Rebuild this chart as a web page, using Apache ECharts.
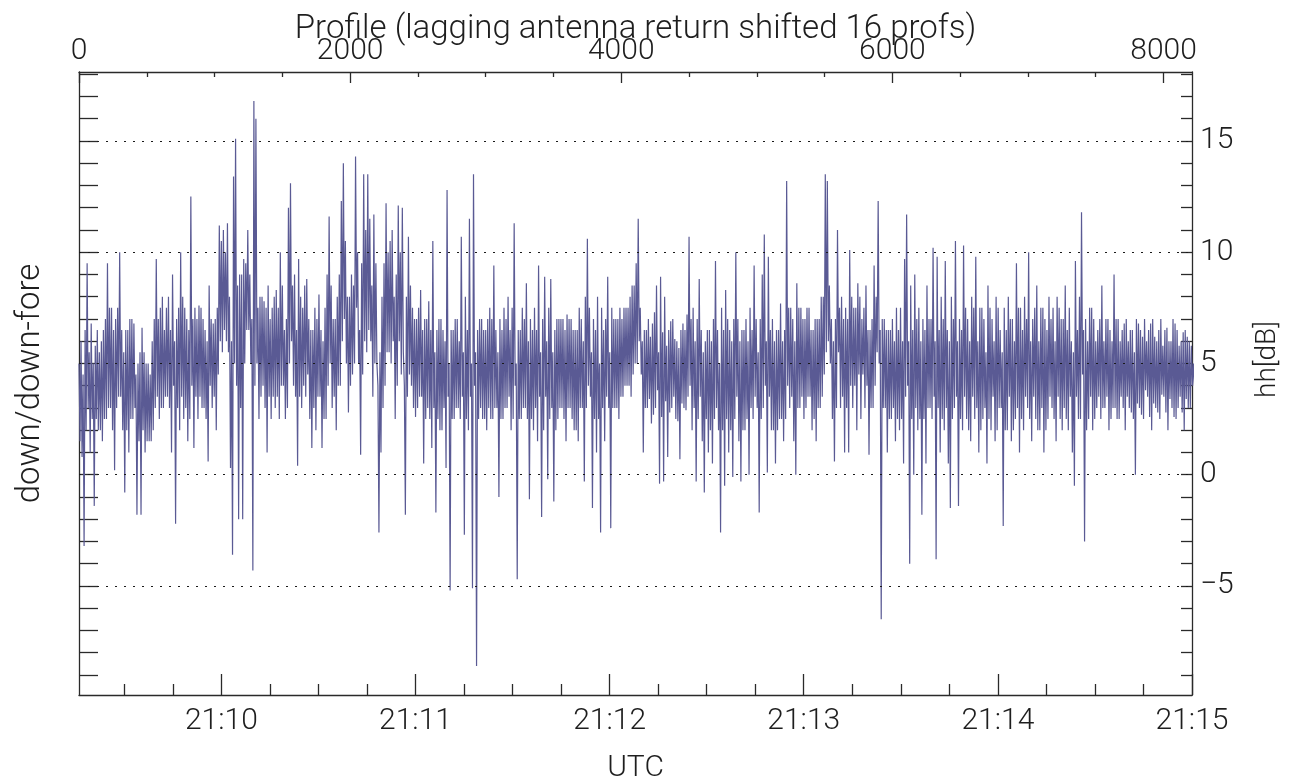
<!DOCTYPE html>
<html>
<head>
<meta charset="utf-8">
<title>hh ratio down/down-fore</title>
<script src="https://cdn.jsdelivr.net/npm/echarts@6/dist/echarts.min.js"></script>
<style>
  html, body { margin: 0; padding: 0; background: #fff; }
  #chart { width: 1297px; height: 780px; }
</style>
</head>
<body>
<div id="chart"></div>
<script>
// Width of one stored bin in profiles (lagging antenna already shifted 16 profiles)
const PROFILE_STEP = 15;

// hh ratio down / down-fore [dB]: two readings per bin, A and B
const hhA = [
  5.0, 0.8, -3.2, 6.5, 9.5, 1.0, 6.8, -1.4, 5.8, 2.0,
  5.5, 1.5, 6.5, 2.5, 9.5, 3.0, 7.5, 0.2, 7.0, 3.5,
  10.0, 2.0, -0.8, 6.5, 1.0, 7.0, 2.5, 6.8, -1.8, 5.0,
  -1.8, 6.6, 1.0, 5.0, 1.5, 4.5, 2.0, 7.0, 9.7, 2.5,
  7.5, 3.0, 6.5, 3.5, 8.0, 1.0, 9.0, -2.2, 7.0, 2.0,
  10.0, 2.5, 7.5, 1.5, 6.5,
  12.5, 1.2, 7.5, 2.5, 7.6, 3.0, 7.0, 2.5, 0.6, 8.5,
  3.0, 6.8, 2.0, 7.5, 11.2, 5.5, 11.0, 6.0, 11.3, 0.3,
  -3.6, 13.4, 15.1, -2.0, 9.0, -2.0, 9.7, 6.5, 11.0, 5.0,
  -4.3, 16.8, 16.0, 2.5, 8.0, 4.0, 7.8, 1.0, 8.5, 2.5,
  7.5, 3.0, 8.3, 2.5, 10.0, 4.0, 6.5, 3.0, 12.0, 13.1,
  4.0, 9.0, 0.4,
  9.7, 3.0, 7.5, 3.5, 8.8, 2.5, 1.2, 6.5, 2.0, 7.0,
  8.1, 1.2, 6.0, 2.5, 9.0, 11.6, 3.0, 7.0, 2.0, 8.0,
  4.0, 12.3, 14.0, 5.0, 2.8, 8.0, 4.5, 8.5, 14.3, 5.0,
  0.9, 9.5, 13.5, 5.5, 13.5, 6.0, 3.5, 11.7, 5.0, -2.6,
  1.0, 8.0, 4.0, 12.2, 5.5, 10.5, 6.0, 2.5, 9.0, 12.1,
  4.5, 12.0, -1.8, 8.0,
  10.7, 4.0, 7.5, 2.6, 7.0, 3.5, 8.3, 0.5, 7.0, 3.0,
  7.8, 1.2, 10.5, -1.7, 6.5, 2.0, 7.0, 3.0, 0.3, 12.8,
  -5.2, 6.5, 2.5, 7.0, 3.0, 6.0, 10.7, -2.7, 8.0, 2.0,
  11.5, -5.1, 13.5, -8.6, 6.5, 3.0, 7.0, 2.5, 6.5, 3.0,
  7.5, 2.5, 9.4, 3.0, -1.0, 7.0, 2.5, 7.5, 3.0, 8.0,
  2.0, 7.5, 11.3, -4.7, 6.5,
  2.5, 7.5, 3.0, 8.6, -1.1, 7.0, 2.0, 7.5, 1.5, 9.4,
  -1.9, 7.0, 8.9, -0.2, 7.5, 8.8, -1.2, 6.5, 2.5, 7.0,
  3.0, 7.0, 1.5, 7.2, 3.0, 7.0, 2.0, 6.5, 1.5, 7.5,
  3.0, -0.3, 8.0, 10.6, 3.5, -1.5, 7.0, 1.0, 8.0, -2.6,
  7.5, 1.5, 7.0, 8.9, -2.4, 7.5, 3.0, 7.0, 2.5, 7.5,
  3.5, 7.5, 4.0,
  7.5, 3.5, 8.5, 5.0, 9.5, 11.5, 4.5, 1.0, 6.5, 3.0,
  7.0, 2.3, 6.8, 3.0, 8.5, -0.4, 8.9, -0.3, 8.0, 0.8,
  6.5, 3.0, 7.0, 2.5, 6.0, 0.7, 6.5, 3.0, 6.5, 3.5,
  10.7, 2.0, 7.5, -0.3, 7.0, 8.8, 1.5, -0.8, 6.0, 1.0,
  6.5, 0.5, 7.0, 9.6, 2.0, -2.6, 7.5, -0.5, 8.3, 1.0,
  6.5, -0.1, 7.0, 10.0, 1.5,
  -0.3, 6.5, 2.0, 7.0, 0.0, 7.5, 2.5, 9.4, 3.0, -1.7,
  7.0, 9.0, 10.8, 0.1, 9.8, 2.0, 7.0, 0.5, 6.5, 2.5,
  7.7, 1.5, 6.5, 13.2, 3.0, 7.5, 1.5, 0.0, 8.6, 3.0,
  7.5, 2.5, 7.0, 3.5, 7.5, 2.0, 6.5, 1.5, 7.0, 3.0,
  8.0, 4.5, 13.5, 13.2, 5.0, 2.5, 0.6, 7.0, 11.0, 3.0,
  8.0, 1.0, 7.5,
  1.0, 10.1, 3.0, 7.5, 2.0, 8.6, 2.5, 7.0, 3.0, 8.5,
  0.9, 6.5, 3.0, 9.4, 5.5, 12.3, -6.5, 3.0, 7.0, 1.0,
  6.5, 2.5, 7.0, 1.5, 7.5, 2.0, 7.5, 0.5, 9.7, 11.7,
  -4.0, 8.5, 0.0, 9.0, 2.0, 7.5, -1.8, 7.0, 0.5, 8.5,
  3.0, 7.0, 10.2, -3.8, 9.8, 1.0, 8.0, 2.0, 9.6, 0.5,
  -1.5, 8.0, 3.0, 10.5, -1.4, 7.0,
  2.0, 10.3, 2.5, 7.0, 1.5, 8.0, 2.5, 9.8, 1.0, 7.5,
  2.5, 7.0, 0.5, 8.5, 2.0, 7.0, 1.5, 8.0, 3.0, 6.5,
  -2.3, 7.5, 2.0, 8.0, 1.5, 7.0, 2.5, 9.5, 1.0, 7.5,
  2.0, 8.0, 3.0, 10.0, 1.5, 7.0, 2.5, 8.5, 2.0, 7.5,
  1.0, 7.0, 2.5, 8.0, 3.0, 7.5, 1.5, 8.0, 2.5, 7.0,
  3.0, 8.5, 2.0, 7.5, 1.0, -0.5, 9.6, 2.5, 8.0, 11.8,
  -3.0, 7.0, 2.5, 7.5, 2.0, 7.0, 3.0, 6.5, 2.5, 8.5,
  3.0, 7.0, 2.0, 6.5, 3.0, 9.0, 2.5, 7.0, 3.5, 6.5,
  2.0, 7.0, 3.0, 6.5, 2.5, 0.0, 7.0, 3.0, 6.5, 2.5,
  7.0, 3.5, 6.5, 2.0, 7.0, 3.0, 6.0, 2.5, 7.0, 3.5,
  6.5, 2.0, 6.0, 3.0, 7.0, 2.5, 6.5, 3.5, 6.0, 2.0,
  6.5, 3.0, 6.0, 4.0, 5.0
];

const hhB = [
  1.5, 6.0, 4.5, 2.0, 3.0, 5.5, 2.5, 5.0, 2.5, 6.5,
  2.0, 6.0, 2.5, 7.0, 3.0, 7.5, 2.0, 6.5, 3.0, 7.5,
  3.5, 6.5, 5.5, 2.0, 6.5, 2.5, 7.0, 3.0, 4.5, 1.5,
  5.5, 2.0, 5.5, 1.5, 5.0, 1.5, 6.0, 3.0, 3.5, 7.0,
  3.0, 8.0, 3.5, 7.5, 3.0, 6.5, 4.0, 6.0, 3.0, 7.5,
  3.5, 8.0, 3.0, 7.0, 2.5,
  4.0, 7.0, 3.5, 7.0, 3.5, 7.5, 3.0, 6.5, 6.0, 4.0,
  7.0, 3.5, 7.0, 4.5, 6.0, 10.5, 6.5, 10.0, 5.5, 8.0,
  6.0, 5.0, 4.0, 8.5, 3.0, 9.0, 5.0, 9.5, 6.5, 9.0,
  7.0, 4.0, 5.0, 7.5, 3.5, 8.0, 3.0, 7.5, 3.5, 7.0,
  3.5, 8.0, 3.5, 7.5, 4.0, 8.5, 2.5, 7.0, 5.0, 6.0,
  8.5, 3.5, 6.5,
  3.5, 8.0, 4.0, 8.5, 4.5, 7.0, 6.5, 3.0, 7.5, 3.5,
  3.5, 6.5, 2.5, 7.5, 4.0, 5.0, 8.5, 3.5, 7.0, 4.0,
  9.0, 6.0, 7.0, 10.5, 8.0, 4.0, 9.0, 5.0, 7.5, 10.0,
  6.5, 4.5, 6.0, 11.0, 6.5, 11.5, 8.5, 5.0, 9.5, 4.0,
  5.5, 3.0, 9.5, 5.5, 10.0, 5.0, 11.0, 8.0, 4.0, 6.0,
  10.0, 5.5, 4.0, 3.5,
  4.5, 8.5, 3.0, 7.0, 3.0, 7.5, 3.5, 6.5, 2.5, 7.0,
  2.5, 6.5, 3.0, 5.5, 2.5, 7.0, 2.0, 6.5, 6.0, 3.5,
  5.0, 2.5, 6.5, 3.0, 7.0, 2.5, 3.5, 5.5, 2.5, 6.5,
  3.5, 5.0, 4.0, 5.5, 2.5, 7.0, 2.5, 6.5, 2.0, 7.0,
  2.5, 7.0, 3.0, 6.5, 5.5, 2.5, 6.5, 3.0, 7.0, 3.5,
  6.5, 2.5, 4.0, 5.0, 2.5,
  6.5, 3.0, 7.0, 2.5, 6.0, 2.5, 6.5, 3.0, 6.5, 3.5,
  5.5, 2.0, 3.5, 6.0, 2.5, 3.0, 5.5, 2.0, 7.0, 3.0,
  7.0, 2.5, 6.5, 3.0, 7.0, 2.5, 6.5, 2.0, 6.5, 3.0,
  7.0, 6.0, 3.0, 4.0, 7.5, 5.5, 2.5, 6.5, 2.5, 5.0,
  3.0, 6.5, 3.5, 3.0, 5.5, 3.0, 7.0, 3.0, 7.0, 3.5,
  7.0, 4.0, 7.5,
  4.0, 8.0, 4.5, 8.5, 5.0, 6.0, 7.5, 6.0, 3.0, 6.5,
  3.4, 6.2, 2.7, 7.3, 3.8, 5.5, 2.6, 6.4, 3.3, 5.8,
  2.8, 6.9, 3.5, 6.1, 2.4, 5.7, 3.2, 6.8, 2.9, 7.2,
  4.0, 7.0, 3.0, 6.0, 2.5, 3.5, 6.5, 5.5, 2.5, 6.5,
  2.0, 6.0, 2.5, 3.0, 6.5, 5.0, 2.0, 6.5, 2.5, 7.0,
  2.0, 6.0, 2.5, 3.5, 7.0,
  6.0, 2.0, 6.5, 2.5, 6.0, 3.0, 6.5, 3.5, 7.0, 5.5,
  2.5, 3.0, 4.0, 6.0, 3.5, 6.5, 2.0, 6.0, 2.0, 6.5,
  2.5, 6.0, 2.5, 4.0, 7.5, 3.5, 7.0, 6.0, 3.0, 7.5,
  3.5, 7.0, 3.0, 7.5, 3.5, 6.5, 2.5, 7.0, 3.0, 7.0,
  3.5, 8.0, 5.5, 6.0, 8.5, 7.0, 6.0, 3.0, 5.5, 7.5,
  3.5, 7.0, 3.0,
  7.0, 4.0, 8.0, 4.0, 7.5, 4.5, 8.0, 4.5, 7.5, 4.0,
  6.5, 3.0, 7.0, 4.0, 8.0, 5.0, 6.5, 7.0, 3.0, 6.5,
  2.5, 6.5, 3.0, 6.0, 2.5, 6.5, 2.5, 6.0, 3.5, 4.0,
  6.0, 2.5, 6.5, 3.0, 7.0, 2.5, 6.0, 2.5, 6.5, 3.0,
  7.0, 2.5, 3.5, 6.0, 3.0, 6.5, 2.5, 7.0, 3.0, 6.5,
  6.0, 2.5, 7.0, 3.5, 6.0, 2.5,
  6.5, 3.5, 7.5, 2.0, 6.0, 3.5, 7.5, 3.0, 6.0, 2.0,
  7.5, 3.0, 5.5, 2.5, 7.5, 3.5, 6.0, 2.0, 7.5, 3.0,
  5.5, 2.0, 6.5, 3.5, 7.0, 2.0, 6.0, 3.0, 7.5, 2.5,
  6.5, 3.5, 7.0, 2.5, 6.0, 3.5, 7.5, 2.0, 6.0, 3.0,
  7.5, 2.0, 6.5, 3.5, 7.0, 2.5, 6.0, 3.5, 7.5, 2.0,
  7.0, 2.5, 6.5, 3.5, 6.0, 5.5, 3.5, 6.5, 2.5, 4.5,
  6.5, 2.0, 6.0, 3.5, 7.5, 2.5, 6.0, 3.5, 7.0, 3.0,
  6.0, 3.5, 7.0, 2.5, 6.0, 3.0, 7.0, 2.5, 6.0, 3.0,
  6.8, 3.5, 6.0, 2.8, 6.5, 5.5, 3.2, 6.8, 2.7, 6.2,
  3.8, 6.0, 2.6, 6.8, 3.2, 6.2, 2.8, 6.5, 3.6, 5.8,
  2.8, 6.6, 3.4, 6.0, 2.6, 6.8, 3.0, 5.8, 2.8, 6.4,
  3.4, 6.2, 3.0, 5.8, 4.0
];

// Axis extents
const profileRange = [0, 8210];
const utcRange = ['21:09:16', '21:15:00'];
const dbRange = [-9.9, 18.1];

// Tick and label values
const profileLabels = [0, 2000, 4000, 6000, 8000];
const profileMinor = [500, 1000, 1500, 2500, 3000, 3500, 4500, 5000, 5500, 6500, 7000, 7500];
const utcLabels = ['21:10', '21:11', '21:12', '21:13', '21:14', '21:15'];
const utcMinor = ['21:09:30', '21:09:45', '21:10:15', '21:10:30', '21:10:45', '21:11:15', '21:11:30',
  '21:11:45', '21:12:15', '21:12:30', '21:12:45', '21:13:15', '21:13:30', '21:13:45', '21:14:15',
  '21:14:30', '21:14:45'];
const dbLabels = [-5, 0, 5, 10, 15];
const dbMinor = [-9, -8, -7, -6, -5, -4, -3, -2, -1, 0, 1, 2, 3, 4, 5, 6, 7, 8, 9,
  10, 11, 12, 13, 14, 15, 16, 17, 18];

// seconds after 21:00:00
function toSec(t) {
  const p = t.split(':').map(Number);
  return (p[0] - 21) * 3600 + p[1] * 60 + (p[2] || 0);
}
function fromSec(s) {
  const m = Math.floor(s / 60);
  return '21:' + String(m).padStart(2, '0');
}

const FONT = 'Roboto';
const INK = '#1e1e1e';
const LINE = '#2a2a2a';
const txt = { fontFamily: FONT, fontWeight: 300, color: INK, fontSize: 30 };

// Each bin is drawn as its upper reading followed by its lower one
const seriesData = [];
const nBins = Math.min(hhA.length, hhB.length);
for (let i = 0; i < nBins; i++) {
  const hi = Math.max(hhA[i], hhB[i]);
  const lo = Math.min(hhA[i], hhB[i]);
  seriesData.push([i * PROFILE_STEP, hi]);
  seriesData.push([i * PROFILE_STEP + PROFILE_STEP / 2, lo]);
}

const tickStyle = { color: LINE, width: 1.3 };

const option = {
  animation: false,
  backgroundColor: '#ffffff',
  textStyle: { fontFamily: FONT },
  grid: { left: 79, right: 105, top: 72, bottom: 85, containLabel: false, outerBoundsMode: 'none' },
  xAxis: [
    {
      // profile number, top
      type: 'value', position: 'top',
      min: profileRange[0], max: profileRange[1],
      axisLine: { show: true, onZero: false, lineStyle: tickStyle },
      axisTick: { show: true, inside: true, length: 11, customValues: profileLabels, lineStyle: tickStyle },
      axisLabel: { show: true, customValues: profileLabels, margin: 6,
        formatter: (v) => String(v), ...txt },
      splitLine: { show: false },
      name: 'Profile (lagging antenna return shifted 16 profs)',
      nameLocation: 'middle', nameGap: 26, nameMoveOverlap: false,
      nameTextStyle: { ...txt, fontSize: 33 }
    },
    {
      type: 'value', position: 'top',
      min: profileRange[0], max: profileRange[1],
      axisLine: { show: false, onZero: false },
      axisTick: { show: true, inside: true, length: 5, customValues: profileMinor, lineStyle: tickStyle },
      axisLabel: { show: false },
      splitLine: { show: false }
    },
    {
      // UTC, bottom
      type: 'value', position: 'bottom',
      min: toSec(utcRange[0]), max: toSec(utcRange[1]),
      axisLine: { show: true, onZero: false, lineStyle: tickStyle },
      axisTick: { show: true, inside: true, length: 21, customValues: utcLabels.map(toSec), lineStyle: tickStyle },
      axisLabel: { show: true, customValues: utcLabels.map(toSec), margin: 11,
        formatter: (v) => fromSec(v), ...txt },
      splitLine: { show: false },
      name: 'UTC', nameLocation: 'middle', nameGap: 58, nameMoveOverlap: false,
      nameTextStyle: { ...txt }
    },
    {
      type: 'value', position: 'bottom',
      min: toSec(utcRange[0]), max: toSec(utcRange[1]),
      axisLine: { show: false, onZero: false },
      axisTick: { show: true, inside: true, length: 11, customValues: utcMinor.map(toSec), lineStyle: tickStyle },
      axisLabel: { show: false },
      splitLine: { show: false }
    }
  ],
  yAxis: [
    {
      type: 'value', position: 'left',
      min: dbRange[0], max: dbRange[1],
      axisLine: { show: true, onZero: false, lineStyle: tickStyle },
      axisTick: { show: true, inside: true, length: 19, customValues: dbMinor, lineStyle: tickStyle },
      axisLabel: { show: false },
      splitLine: { show: false },
      name: 'down/down-fore', nameLocation: 'middle', nameGap: 32, nameRotate: 90, nameMoveOverlap: false,
      nameTextStyle: { ...txt, fontSize: 33 }
    },
    {
      type: 'value', position: 'right',
      min: dbRange[0], max: dbRange[1],
      axisLine: { show: true, onZero: false, lineStyle: tickStyle },
      axisTick: { show: true, inside: true, length: 11, customValues: dbMinor, lineStyle: tickStyle },
      axisLabel: { show: true, customValues: dbLabels, margin: 8,
        formatter: (v) => (v < 0 ? '\u2212' + Math.abs(v) : String(v)), ...txt },
      splitLine: { show: false },
      name: 'hh[dB]', nameLocation: 'middle', nameGap: 62, nameRotate: 90, nameMoveOverlap: false,
      nameTextStyle: { ...txt, fontSize: 28, padding: [0, 0, 0, 48] }
    }
  ],
  series: [
    {
      type: 'line',
      xAxisIndex: 0, yAxisIndex: 0,
      data: seriesData,
      showSymbol: false, symbol: 'none',
      sampling: false,
      clip: true,
      lineStyle: { color: '#5a5a94', width: 1.2 },
      markLine: {
        silent: true, symbol: 'none', animation: false,
        label: { show: false },
        lineStyle: { color: '#1a1a1a', type: [2, 7], width: 1.2 },
        emphasis: { disabled: true },
        data: dbLabels.map((v) => ({ yAxis: v }))
      }
    }
  ]
};

const chart = echarts.init(document.getElementById('chart'));
chart.setOption(option);
</script>
</body>
</html>
